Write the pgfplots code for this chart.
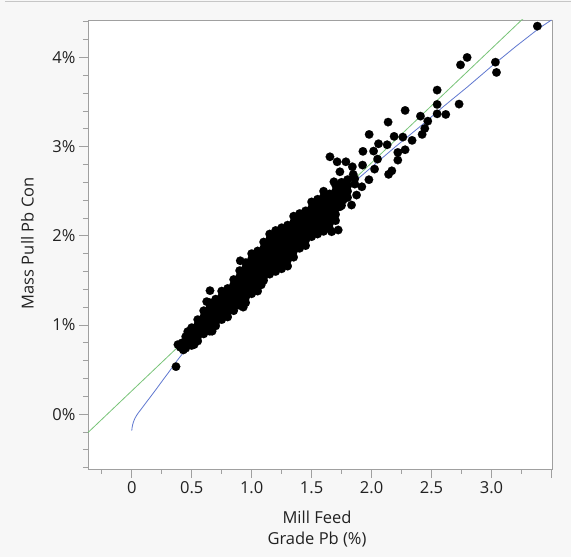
\documentclass[border=0pt]{standalone}
\usepackage{fontspec}
\setmainfont{Open Sans}
\usepackage{pgfplots}
\usepackage{pgfplotstable}
\pgfplotsset{compat=1.18}
\definecolor{bg}{HTML}{F7F7F7}
\definecolor{framec}{HTML}{A0A0A0}
\definecolor{fitgreen}{HTML}{78C478}
\definecolor{fitblue}{HTML}{6078D0}
\definecolor{txt}{HTML}{222222}
\pgfplotstableread{
x y
0.369 0.533
0.385 0.78
0.405 0.75
0.43 0.72
0.42 0.80
0.467 0.926
0.45 0.74
0.45 0.80
0.45 0.87
0.50 0.77
0.50 0.84
0.50 0.90
0.50 0.97
0.52 0.78
0.55 0.82
0.55 0.87
0.55 0.93
0.55 1.00
0.55 1.06
0.60 0.90
0.60 0.96
0.60 1.03
0.60 1.09
0.60 1.16
0.625 1.262
0.6525 1.385
0.65 0.93
0.65 0.99
0.65 1.06
0.65 1.12
0.65 1.19
0.65 1.25
0.67 0.93
0.70 0.99
0.70 1.03
0.70 1.09
0.70 1.16
0.70 1.22
0.70 1.29
0.75 1.06
0.75 1.12
0.75 1.19
0.75 1.25
0.75 1.32
0.75 1.38
0.80 1.09
0.80 1.15
0.80 1.22
0.80 1.28
0.80 1.35
0.80 1.41
0.85 1.16
0.85 1.19
0.85 1.25
0.85 1.32
0.85 1.38
0.85 1.45
0.85 1.51
0.90 1.22
0.90 1.28
0.90 1.35
0.90 1.41
0.90 1.48
0.90 1.54
0.90 1.61
0.905 1.72
0.93 1.20
0.95 1.25
0.95 1.31
0.95 1.38
0.95 1.44
0.95 1.51
0.95 1.57
0.95 1.64
0.95 1.70
1.00 1.35
1.00 1.41
1.00 1.48
1.00 1.54
1.00 1.61
1.00 1.67
1.00 1.74
1.00 1.80
1.05 1.38
1.05 1.44
1.05 1.51
1.05 1.57
1.05 1.64
1.05 1.70
1.05 1.77
1.05 1.83
1.08 1.45
1.10 1.50
1.10 1.54
1.10 1.60
1.10 1.67
1.10 1.73
1.10 1.80
1.10 1.86
1.10 1.93
1.15 1.57
1.15 1.63
1.15 1.70
1.15 1.76
1.15 1.83
1.15 1.89
1.15 1.96
1.15 2.02
1.20 1.60
1.20 1.67
1.20 1.73
1.20 1.80
1.20 1.86
1.20 1.93
1.20 1.99
1.20 2.06
1.25 1.63
1.25 1.70
1.25 1.76
1.25 1.83
1.25 1.89
1.25 1.96
1.25 2.02
1.25 2.09
1.30 1.66
1.30 1.73
1.30 1.79
1.30 1.86
1.30 1.92
1.30 1.99
1.30 2.05
1.30 2.12
1.35 1.76
1.35 1.83
1.35 1.89
1.35 1.96
1.35 2.02
1.35 2.09
1.35 2.15
1.35 2.22
1.40 1.86
1.40 1.92
1.40 1.99
1.40 2.05
1.40 2.12
1.40 2.18
1.40 2.25
1.45 1.89
1.45 1.95
1.45 2.02
1.45 2.08
1.45 2.15
1.45 2.21
1.45 2.28
1.50 1.99
1.50 2.05
1.50 2.12
1.50 2.18
1.50 2.25
1.50 2.31
1.50 2.38
1.55 2.02
1.55 2.08
1.55 2.15
1.55 2.21
1.55 2.28
1.55 2.34
1.55 2.41
1.60 2.05
1.60 2.11
1.60 2.18
1.60 2.24
1.60 2.31
1.60 2.37
1.60 2.44
1.60 2.50
1.65 2.08
1.65 2.14
1.65 2.21
1.65 2.27
1.65 2.34
1.65 2.40
1.65 2.47
1.667 2.046
1.722 2.065
1.70 2.17
1.70 2.24
1.70 2.31
1.70 2.37
1.70 2.44
1.70 2.50
1.70 2.57
1.736 2.326
1.75 2.34
1.75 2.40
1.75 2.47
1.75 2.53
1.75 2.60
1.80 2.43
1.80 2.50
1.80 2.56
1.80 2.63
1.86 2.58
1.86 2.64
3.383 4.351
2.797 4.000
2.742 3.917
3.033 3.947
3.042 3.832
2.547 3.634
2.547 3.473
2.730 3.477
2.547 3.368
2.619 3.361
2.280 3.406
2.408 3.342
2.469 3.286
2.138 3.275
2.444 3.204
2.422 3.137
1.980 3.137
2.188 3.115
2.261 3.107
2.338 3.070
2.058 3.032
2.130 3.021
2.280 2.965
1.928 2.947
2.017 2.950
2.219 2.935
2.219 2.849
2.050 2.860
2.169 2.729
2.142 2.689
2.025 2.748
1.978 2.629
1.925 2.793
1.840 2.774
1.786 2.830
1.713 2.830
1.653 2.886
1.736 2.718
1.847 2.689
1.919 2.550
1.833 2.345
1.875 2.457
1.686 2.606
1.763 2.400
}\scatterdata
\begin{document}
\begin{tikzpicture}
\useasboundingbox (-88pt,-88pt) rectangle (483pt,469pt);
\fill[bg] (-88pt,-88pt) rectangle (483pt,469pt);
\draw[line width=1pt, color=framec!60] (-83pt,467.5pt) -- (483pt,467.5pt);
\begin{axis}[
  at={(0pt,0pt)}, anchor=south west,
  scale only axis, width=464pt, height=449pt,
  xmin=-0.365, xmax=3.505, ymin=-0.615, ymax=4.42,
  axis background/.style={fill=white},
  axis line style={framec, line width=0.8pt},
  tick style={framec, line width=0.8pt},
  tick align=outside,
  xtick pos=bottom, ytick pos=left,
  major tick length=9pt, minor tick length=5pt,
  xtick={0,0.5,1,1.5,2,2.5,3,3.5},
  xticklabels={0,0.5,1.0,1.5,2.0,2.5,3.0,{}},
  minor xtick={-0.25,0.25,0.75,1.25,1.75,2.25,2.75,3.25},
  ytick={0,1,2,3,4},
  yticklabels={0\%,1\%,2\%,3\%,4\%},
  minor ytick={-0.6,-0.4,-0.2,0.2,0.4,0.6,0.8,1.2,1.4,1.6,1.8,2.2,2.4,2.6,2.8,3.2,3.4,3.6,3.8,4.2,4.4},
  tick label style={font=\fontsize{16.5}{20}\selectfont, text=txt},
  xlabel={Mill Feed\\Grade Pb (\%)},
  ylabel={Mass Pull Pb Con},
  label style={font=\fontsize{16.5}{21}\selectfont, text=txt},
  xlabel style={at={(axis description cs:0.4935,-0.1336)}, anchor=center, align=center},
  ylabel style={at={(axis description cs:-0.1304,0.5027)}, anchor=center},
]
\addplot[only marks, mark=*, mark size=4.3pt, mark options={fill=black, draw=black, line width=0.1pt}] table[x=x, y=y] {\scatterdata};
\addplot[fitgreen, line width=0.8pt] coordinates {(-0.365,-0.206) (3.505,4.744)};
\addplot[fitblue, line width=0.8pt] coordinates {
(0,-0.185) (0.003,-0.15) (0.008,-0.115) (0.015,-0.085) (0.025,-0.05) (0.04,-0.015)
(0.055,0.015) (0.075,0.05) (0.10,0.095) (0.125,0.14) (0.15,0.183) (0.20,0.273)
(0.25,0.365) (0.30,0.455) (0.375,0.595) (0.45,0.725) (0.55,0.885) (0.65,1.035)
(0.80,1.25) (0.90,1.39) (1.00,1.53) (1.10,1.665) (1.20,1.80) (1.30,1.925)
(1.40,2.05) (1.50,2.175) (1.60,2.30) (1.70,2.42) (1.80,2.54) (1.90,2.655)
(2.00,2.77) (2.20,3.00) (2.40,3.22) (2.60,3.45) (2.80,3.67) (3.00,3.90)
(3.20,4.12) (3.40,4.33) (3.50,4.42)};
\end{axis}
\end{tikzpicture}
\end{document}
